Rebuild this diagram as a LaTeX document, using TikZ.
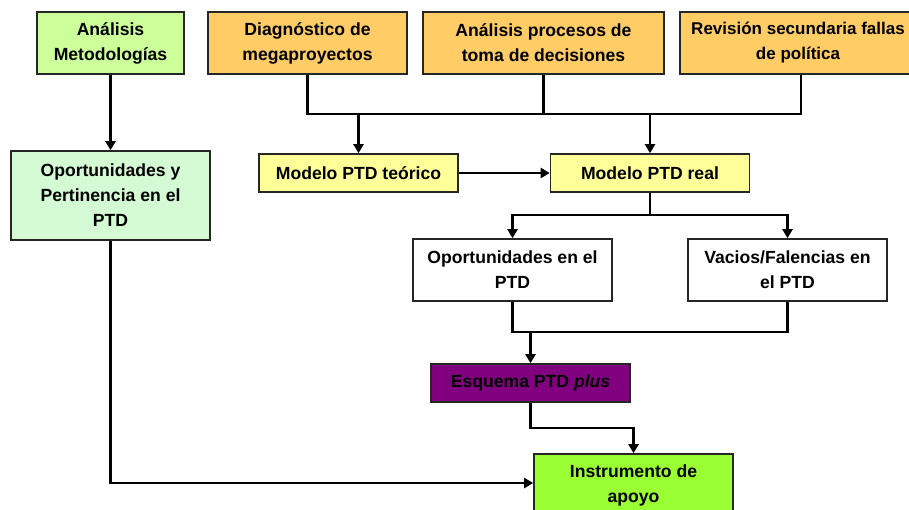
\documentclass[tikz,border=0pt]{standalone}
\usepackage{fontspec}
\setmainfont{Liberation Sans}
\usetikzlibrary{arrows.meta}

\definecolor{lgreen}{HTML}{CCFF99}
\definecolor{orangebox}{HTML}{FFCC66}
\definecolor{mint}{HTML}{D4FAD4}
\definecolor{lyellow}{HTML}{FFFF99}
\definecolor{purplebox}{HTML}{800080}
\definecolor{brightgreen}{HTML}{99FF33}

\tikzset{
  box/.style={draw=black!85, line width=1.6pt, inner sep=0pt, align=center,
    minimum width=199pt, font=\fontsize{17.6}{25}\selectfont\bfseries},
  tall/.style={minimum height=62pt},
  flat/.style={minimum height=38pt},
  link/.style={draw=black, line width=2.2pt},
  arr/.style={link, -{Triangle[length=9pt,width=10pt]}},
}

\begin{document}
\begin{tikzpicture}[x=1pt,y=-1pt]
  \useasboundingbox (0,0) rectangle (909,509);
  \clip (0,0) rectangle (909,509);

  % top row
  \node[box,tall,fill=lgreen,minimum width=147pt] (am) at (110.5,43) {Análisis\\Metodologías};
  \node[box,tall,fill=orangebox] (dg) at (307.5,43) {Diagnóstico de\\megaproyectos};
  \node[box,tall,fill=orangebox,minimum width=241pt] (ap) at (543.5,43) {Análisis procesos de\\toma de decisiones};
  \node[box,tall,fill=orangebox,minimum width=236pt,font=\fontsize{17}{25}\selectfont\bfseries] (rv) at (798,43) {Revisión secundaria fallas\\de política};

  % second row
  \node[box,fill=mint,minimum height=89pt] (op) at (110.5,195.5) {Oportunidades y\\Pertinencia en el\\PTD};
  \node[box,flat,fill=lyellow] (mt) at (358.5,173) {Modelo PTD teórico};
  \node[box,flat,fill=lyellow] (mr) at (650,173) {Modelo PTD real};

  % third row
  \node[box,tall,fill=white] (oe) at (512.5,270) {Oportunidades en el\\PTD};
  \node[box,tall,fill=white] (vf) at (787.5,270) {Vacios/Falencias en\\el PTD};

  % bottom
  \node[box,flat,fill=purplebox] (es) at (530.5,383) {Esquema PTD \textit{plus}};
  \node[box,tall,fill=brightgreen] (ins) at (633.5,485) {Instrumento de\\apoyo};

  % connectors
  \draw[arr] (am.south) -- (op.north);

  \coordinate (b1) at (307.5,114);
  \coordinate (b2) at (801,114);
  \draw[link] (dg.south) -- (b1) -- (b2) -- (b2 |- rv.south);
  \draw[link] (ap.south) -- (ap.south |- b1);
  \draw[arr] (b1 -| mt.north) -- (mt.north);
  \draw[arr] (b1 -| mr.north) -- (mr.north);

  \draw[arr] (mt.east) -- (mr.west);

  \coordinate (b3) at (650,215);
  \draw[link] (mr.south) -- (b3);
  \draw[arr] (b3) -| (oe.north);
  \draw[arr] (b3) -| (vf.north);

  \coordinate (m3) at (512.5,332);
  \coordinate (n3) at (787.5,332);
  \draw[link] (oe.south) -- (m3) -- (n3) -- (vf.south);
  \draw[arr] (m3 -| es.north) -- (es.north);

  \coordinate (e4) at (530.5,428);
  \draw[arr] (es.south) -- (e4) -| (ins.north);

  \draw[arr] (op.south) |- ([yshift=2pt]ins.west);
\end{tikzpicture}
\end{document}
